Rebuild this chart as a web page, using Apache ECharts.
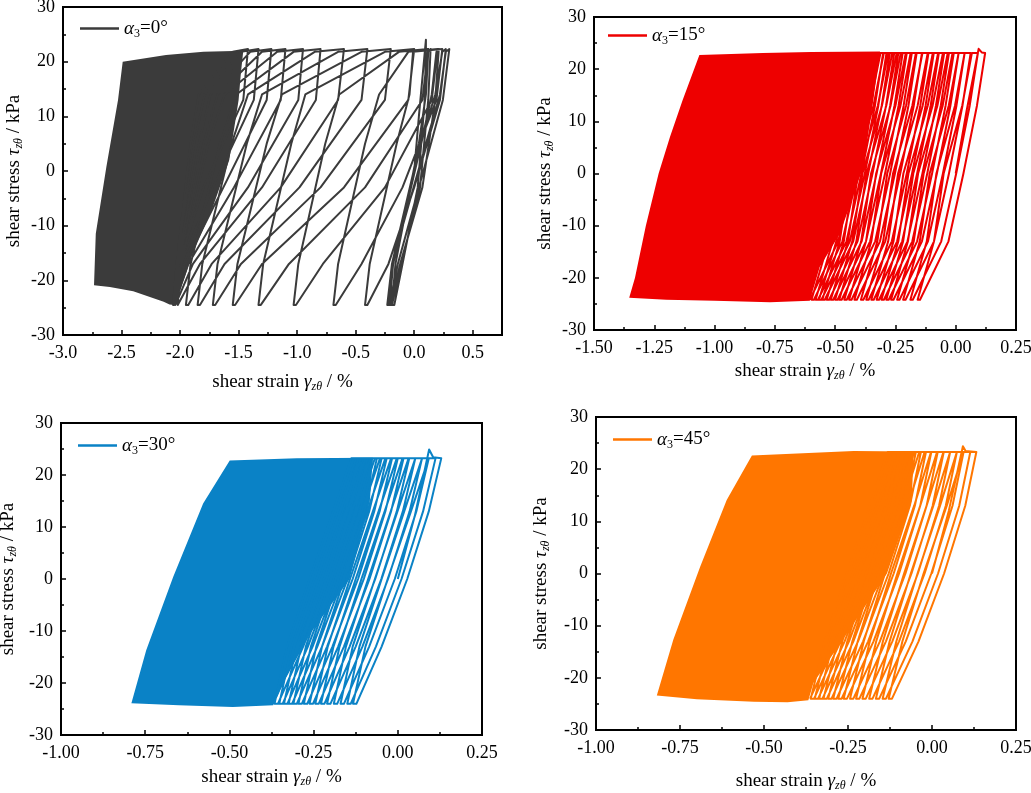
<!DOCTYPE html>
<html lang="en">
<head>
<meta charset="UTF-8">
<title>shear stress - shear strain loops</title>
<script src="https://cdn.jsdelivr.net/npm/echarts@6.0.0/dist/echarts.min.js"></script>
<style>
    * { margin: 0; padding: 0; }
    html, body { width: 1031px; height: 793px; background: #fff; overflow: hidden; }
    #chart { width: 1031px; height: 793px; }
</style>
</head>
<body>
<div id="chart"></div>
<script type="text/javascript">
    var FONT = 'Liberation Serif';

    // ---------- alpha3 = 0 deg ----------
    var p1InitX = [0, 0.04, 0.10];
    var p1InitY = [0, 10, 24];
    var p1TopY = 22.3;
    var p1UpY = [-24.5, -17, 5, 14, 21.8];      // BL, then points on the way up
    var p1DownY = [13, -3, -17, -24.5];         // points on the way down, last = BR
    var p1Top = [0.10, 0.14, 0.21, 0.30, 0.27, 0.24, 0.20, 0.12, 0.0, -0.2, -0.4, -0.6, -0.8, -0.95, -1.1, -1.22, -1.33, -1.42];
    var p1Up = [
        null,
        [-0.19, -0.16, 0.04, 0.10, 0.12],
        [-0.21, -0.18, 0.06, 0.15, 0.19],
        [-0.22, -0.19, 0.10, 0.22, 0.27],
        [-0.23, -0.19, 0.05, 0.18, 0.24],
        [-0.42, -0.38, -0.15, -0.04, -0.01],
        [-0.69, -0.65, -0.42, -0.30, -0.05],
        [-1.03, -0.99, -0.76, -0.64, -0.13],
        [-1.33, -1.29, -1.05, -0.93, -0.25],
        [-1.55, -1.51, -1.26, -1.13, -0.45],
        [-1.72, -1.68, -1.43, -1.30, -0.65],
        [-1.85, -1.81, -1.56, -1.42, -0.85],
        [-1.95, -1.91, -1.66, -1.52, -1.03],
        [-2.03, -1.99, -1.76, -1.62, -1.17],
        [-2.05, -2.01, -1.80, -1.68, -1.30],
        [-2.06, -2.02, -1.84, -1.74, -1.40],
        [-2.07, -2.03, -1.88, -1.79, -1.48],
        [-2.07, -2.03, -1.91, -1.84, -1.55]
    ];
    var p1Down = [
        [0.09, 0.03, -0.10, -0.17],
        [0.12, 0.05, -0.11, -0.19],
        [0.18, 0.07, -0.12, -0.20],
        [0.245, 0.04, -0.14, -0.21],
        [0.22, 0.00, -0.22, -0.40],
        [0.19, -0.10, -0.45, -0.67],
        [0.15, -0.25, -0.78, -1.01],
        [0.07, -0.42, -1.07, -1.31],
        [-0.05, -0.60, -1.30, -1.53],
        [-0.25, -0.80, -1.48, -1.70],
        [-0.45, -0.98, -1.62, -1.83],
        [-0.65, -1.14, -1.73, -1.93],
        [-0.84, -1.30, -1.83, -2.02],
        [-0.99, -1.42, -1.89, -2.04],
        [-1.14, -1.54, -1.93, -2.05],
        [-1.26, -1.63, -1.96, -2.06],
        [-1.37, -1.72, -1.99, -2.06],
        [-1.46, -1.80, -2.01, -2.06]
    ];
    var p1Dense = [[-2.735, -20.9], [-2.72, -11.5], [-2.63, 0.7], [-2.53, 13], [-2.49, 20.0], [-2.12, 21.2], [-1.80, 21.8],
        [-1.46, 22.0], [-1.48, 18], [-1.50, 13], [-1.58, 2], [-1.72, -6.6], [-1.89, -15], [-2.03, -23.7], [-2.05, -24.5],
        [-2.09, -24.4], [-2.14, -23.9], [-2.40, -22.0], [-2.60, -21.2]];

    // ---------- alpha3 = 15 deg ----------
    var p2InitX = [0, 0.045, 0.095, 0.108];
    var p2InitY = [0, 12, 23.9, 23.2];
    var p2TopY = 23.1;
    var p2UpY = [-24.2, -13, 0, 13, 23.1];
    var p2DownY = [13, 0, -13, -24.2];
    var p2Top = [0.122, 0.092, 0.062, 0.037, 0.012, -0.008, -0.028, -0.048, -0.070, -0.091, -0.113, -0.140,
        -0.162, -0.182, -0.203, -0.220, -0.238, -0.255, -0.273, -0.287, -0.301, -0.318, -0.335];
    var p2Up = [
        null,
        [-0.158, -0.090, -0.050, 0.027, 0.067],
        [-0.188, -0.120, -0.080, -0.003, 0.037],
        [-0.218, -0.149, -0.108, -0.029, 0.012],
        [-0.243, -0.174, -0.133, -0.054, -0.013],
        [-0.268, -0.198, -0.156, -0.076, -0.033],
        [-0.288, -0.218, -0.176, -0.096, -0.053],
        [-0.308, -0.238, -0.196, -0.116, -0.073],
        [-0.328, -0.258, -0.217, -0.137, -0.095],
        [-0.350, -0.280, -0.239, -0.158, -0.116],
        [-0.371, -0.301, -0.260, -0.180, -0.138],
        [-0.393, -0.325, -0.284, -0.206, -0.165],
        [-0.420, -0.350, -0.309, -0.229, -0.187],
        [-0.442, -0.372, -0.330, -0.250, -0.207],
        [-0.462, -0.392, -0.351, -0.270, -0.228],
        [-0.483, -0.412, -0.370, -0.288, -0.245],
        [-0.500, -0.429, -0.387, -0.306, -0.263],
        [-0.518, -0.447, -0.405, -0.323, -0.280],
        [-0.535, -0.464, -0.422, -0.341, -0.298],
        [-0.553, -0.481, -0.439, -0.356, -0.312],
        [-0.567, -0.495, -0.453, -0.370, -0.326],
        [-0.581, -0.510, -0.468, -0.386, -0.343],
        [-0.598, -0.527, -0.485, -0.403, -0.360]
    ];
    var p2Down = [
        [0.088, 0.032, -0.030, -0.148],
        [0.058, 0.002, -0.060, -0.178],
        [0.028, -0.028, -0.090, -0.208],
        [0.003, -0.053, -0.115, -0.233],
        [-0.022, -0.078, -0.140, -0.258],
        [-0.042, -0.098, -0.160, -0.278],
        [-0.062, -0.118, -0.180, -0.298],
        [-0.082, -0.138, -0.200, -0.318],
        [-0.104, -0.160, -0.222, -0.340],
        [-0.125, -0.181, -0.243, -0.361],
        [-0.147, -0.203, -0.265, -0.383],
        [-0.174, -0.230, -0.292, -0.410],
        [-0.196, -0.252, -0.314, -0.432],
        [-0.216, -0.272, -0.334, -0.452],
        [-0.237, -0.293, -0.355, -0.473],
        [-0.254, -0.310, -0.372, -0.490],
        [-0.272, -0.328, -0.390, -0.508],
        [-0.289, -0.345, -0.407, -0.525],
        [-0.307, -0.363, -0.425, -0.543],
        [-0.321, -0.377, -0.439, -0.557],
        [-0.335, -0.391, -0.453, -0.571],
        [-0.352, -0.408, -0.470, -0.588],
        [-0.369, -0.425, -0.487, -0.605]
    ];
    var p2Dense = [[-1.354, -23.8], [-1.33, -20], [-1.285, -10], [-1.232, 0], [-1.185, 7], [-1.133, 14], [-1.063, 22.7],
        [-0.8, 23.1], [-0.6, 23.3], [-0.314, 23.4], [-0.342, 14], [-0.383, 1.3], [-0.48, -11.5], [-0.564, -17.9],
        [-0.605, -24.4], [-0.77, -24.7], [-1.0, -24.4], [-1.2, -24.2]];

    // ---------- alpha3 = 30 deg ----------
    var p3InitX = [0, 0.05, 0.093, 0.105];
    var p3InitY = [0, 12, 24.9, 23.4];
    var p3TopY = 23.2;
    var p3UpY = [-24.0, -13, 0, 13, 23.2];
    var p3DownY = [13, 0, -13, -24.0];
    var p3Top = [0.129, 0.112, 0.092, 0.072, 0.052, 0.034, 0.017, 0.000, -0.017, -0.033, -0.048, -0.062,
        -0.076, -0.090, -0.104, -0.118];
    var p3Up = [
        null,
        [-0.133, -0.096, -0.030, 0.039, 0.092],
        [-0.150, -0.114, -0.048, 0.019, 0.072],
        [-0.170, -0.134, -0.068, -0.001, 0.052],
        [-0.190, -0.154, -0.088, -0.021, 0.032],
        [-0.210, -0.173, -0.108, -0.039, 0.014],
        [-0.228, -0.191, -0.125, -0.057, -0.003],
        [-0.245, -0.208, -0.142, -0.074, -0.020],
        [-0.262, -0.225, -0.159, -0.091, -0.037],
        [-0.279, -0.242, -0.176, -0.107, -0.053],
        [-0.295, -0.258, -0.191, -0.122, -0.068],
        [-0.310, -0.273, -0.206, -0.136, -0.082],
        [-0.324, -0.287, -0.220, -0.150, -0.096],
        [-0.338, -0.301, -0.234, -0.164, -0.110],
        [-0.352, -0.315, -0.248, -0.178, -0.124],
        [-0.366, -0.329, -0.262, -0.192, -0.138]
    ];
    var p3Down = [
        [0.092, 0.028, -0.048, -0.123],
        [0.075, 0.011, -0.065, -0.140],
        [0.055, -0.009, -0.085, -0.160],
        [0.035, -0.029, -0.105, -0.180],
        [0.015, -0.049, -0.125, -0.200],
        [-0.003, -0.067, -0.143, -0.218],
        [-0.020, -0.084, -0.160, -0.235],
        [-0.037, -0.101, -0.177, -0.252],
        [-0.054, -0.118, -0.194, -0.269],
        [-0.070, -0.134, -0.210, -0.285],
        [-0.085, -0.149, -0.225, -0.300],
        [-0.099, -0.163, -0.239, -0.314],
        [-0.113, -0.177, -0.253, -0.328],
        [-0.127, -0.191, -0.267, -0.342],
        [-0.141, -0.205, -0.281, -0.356],
        [-0.155, -0.219, -0.295, -0.370]
    ];
    var p3Dense = [[-0.791, -23.9], [-0.747, -13.7], [-0.667, 0.4], [-0.578, 14.5], [-0.499, 22.8], [-0.3, 23.2],
        [-0.074, 23.3], [-0.083, 15], [-0.143, 0], [-0.26, -10.5], [-0.34, -20], [-0.37, -24.3], [-0.49, -24.6],
        [-0.65, -24.3]];

    // ---------- alpha3 = 45 deg ----------
    var p4InitX = [0, 0.05, 0.092, 0.10];
    var p4InitY = [0, 12, 24.4, 23.5];
    var p4TopY = 23.3;
    var p4UpY = [-24.0, -13, 0, 13, 23.3];
    var p4DownY = [13, 0, -13, -24.0];
    var p4Top = [0.132, 0.114, 0.094, 0.074, 0.054, 0.035, 0.017, -0.002, -0.018, -0.033, -0.048, -0.062,
        -0.075, -0.088, -0.100, -0.112];
    var p4Up = [
        null,
        [-0.129, -0.088, -0.025, 0.044, 0.094],
        [-0.147, -0.106, -0.043, 0.024, 0.074],
        [-0.167, -0.126, -0.063, 0.004, 0.054],
        [-0.187, -0.146, -0.083, -0.016, 0.034],
        [-0.207, -0.166, -0.103, -0.035, 0.015],
        [-0.226, -0.185, -0.122, -0.053, -0.003],
        [-0.244, -0.203, -0.140, -0.072, -0.022],
        [-0.263, -0.221, -0.158, -0.089, -0.038],
        [-0.279, -0.237, -0.173, -0.104, -0.053],
        [-0.294, -0.252, -0.188, -0.119, -0.068],
        [-0.309, -0.267, -0.203, -0.134, -0.082],
        [-0.323, -0.281, -0.216, -0.147, -0.095],
        [-0.336, -0.294, -0.229, -0.160, -0.108],
        [-0.349, -0.307, -0.242, -0.172, -0.120],
        [-0.361, -0.319, -0.254, -0.185, -0.132]
    ];
    var p4Down = [
        [0.099, 0.036, -0.040, -0.119],
        [0.081, 0.018, -0.058, -0.137],
        [0.061, -0.002, -0.078, -0.157],
        [0.041, -0.022, -0.098, -0.177],
        [0.021, -0.042, -0.118, -0.197],
        [0.002, -0.061, -0.137, -0.216],
        [-0.016, -0.079, -0.155, -0.234],
        [-0.035, -0.098, -0.174, -0.253],
        [-0.051, -0.114, -0.190, -0.269],
        [-0.066, -0.129, -0.205, -0.284],
        [-0.081, -0.144, -0.220, -0.299],
        [-0.095, -0.158, -0.234, -0.313],
        [-0.108, -0.171, -0.247, -0.326],
        [-0.121, -0.184, -0.260, -0.339],
        [-0.133, -0.196, -0.272, -0.351],
        [-0.145, -0.208, -0.284, -0.363]
    ];
    var p4Dense = [[-0.819, -23.4], [-0.770, -12.7], [-0.690, 1.3], [-0.611, 14.1], [-0.536, 22.6], [-0.233, 23.5],
        [-0.055, 23.4], [-0.06, 14], [-0.134, 0], [-0.253, -11.5], [-0.353, -21], [-0.368, -24.3], [-0.43, -24.7],
        [-0.53, -24.6], [-0.7, -24.1]];

    var angles = ['0', '15', '30', '45'];

    // strain path: first loading, then for every cycle up branch -> peak -> down branch
    function loopPath(initX, initY, tops, topY, ups, upY, downs, downY) {
        var pts = [];
        for (var i = 0; i < initX.length; i++) pts.push([initX[i], initY[i]]);
        for (var k = 0; k < tops.length; k++) {
            if (ups[k]) {
                for (var j = 0; j < ups[k].length; j++) pts.push([ups[k][j], upY[j]]);
            }
            pts.push([tops[k], topY]);
            for (var m = 0; m < downs[k].length; m++) pts.push([downs[k][m], downY[m]]);
        }
        return pts;
    }

    var panels = [
        { color: '#3b3b3b', grid: { left: 63, top: 7, width: 439, height: 328 },
          xMin: -3, xMax: 0.75, xStep: 0.5, digits: 1, xGap: 36, yGap: 38, legend: { left: 80, top: 19 },
          path: loopPath(p1InitX, p1InitY, p1Top, p1TopY, p1Up, p1UpY, p1Down, p1DownY), dense: p1Dense },
        { color: '#ee0000', grid: { left: 594, top: 17, width: 422, height: 313 },
          xMin: -1.5, xMax: 0.25, xStep: 0.25, digits: 2, xGap: 30, yGap: 38, legend: { left: 608, top: 26 },
          path: loopPath(p2InitX, p2InitY, p2Top, p2TopY, p2Up, p2UpY, p2Down, p2DownY), dense: p2Dense },
        { color: '#0a82c6', grid: { left: 61, top: 423, width: 421, height: 312 },
          xMin: -1, xMax: 0.25, xStep: 0.25, digits: 2, xGap: 31, yGap: 42, legend: { left: 78, top: 436 },
          path: loopPath(p3InitX, p3InitY, p3Top, p3TopY, p3Up, p3UpY, p3Down, p3DownY), dense: p3Dense },
        { color: '#ff7600', grid: { left: 596, top: 417, width: 420, height: 313 },
          xMin: -1, xMax: 0.25, xStep: 0.25, digits: 2, xGap: 40, yGap: 44, legend: { left: 613, top: 430 },
          path: loopPath(p4InitX, p4InitY, p4Top, p4TopY, p4Up, p4UpY, p4Down, p4DownY), dense: p4Dense }
    ];

    var nameRich = {
        n: { fontFamily: FONT, fontSize: 19, color: '#000', lineHeight: 22 },
        g: { fontFamily: FONT, fontSize: 19, color: '#000', fontStyle: 'italic', lineHeight: 22 },
        s: { fontFamily: FONT, fontSize: 12, color: '#000', fontStyle: 'italic', verticalAlign: 'bottom' }
    };
    var legendRich = {
        a: { fontFamily: FONT, fontSize: 19, color: '#000', fontStyle: 'italic', lineHeight: 22 },
        s: { fontFamily: FONT, fontSize: 12, color: '#000', verticalAlign: 'bottom' },
        n: { fontFamily: FONT, fontSize: 19, color: '#000', lineHeight: 22 }
    };

    var grids = [], xAxes = [], yAxes = [], series = [], legends = [];
    panels.forEach(function (p, i) {
        grids.push({ left: p.grid.left, top: p.grid.top, width: p.grid.width, height: p.grid.height,
            show: true, borderColor: '#000', borderWidth: 2, outerBoundsMode: 'none', containLabel: false });
        xAxes.push({
            type: 'value', gridIndex: i, min: p.xMin, max: p.xMax, interval: p.xStep,
            name: '{n|shear strain }{g|γ}{s|zθ}{n| / %}', nameLocation: 'middle', nameGap: p.xGap,
            nameMoveOverlap: false, nameTextStyle: { rich: nameRich },
            axisLine: { show: true, onZero: false, lineStyle: { color: '#000', width: 2 } },
            axisTick: { show: true, inside: true, length: 5, lineStyle: { color: '#000', width: 1.5 } },
            minorTick: { show: true, splitNumber: 2, length: 3, lineStyle: { color: '#000', width: 1.5 } },
            splitLine: { show: false },
            axisLabel: { fontFamily: FONT, fontSize: 18, color: '#000', margin: 9, showMaxLabel: i !== 0,
                formatter: function (v) { return v.toFixed(p.digits); } }
        });
        yAxes.push({
            type: 'value', gridIndex: i, min: -30, max: 30, interval: 10,
            name: '{n|shear stress }{g|τ}{s|zθ}{n| / kPa}', nameLocation: 'middle', nameGap: p.yGap, nameRotate: 90,
            nameMoveOverlap: false, nameTextStyle: { rich: nameRich },
            axisLine: { show: true, onZero: false, lineStyle: { color: '#000', width: 2 } },
            axisTick: { show: true, inside: true, length: 5, lineStyle: { color: '#000', width: 1.5 } },
            minorTick: { show: true, splitNumber: 2, length: 3, lineStyle: { color: '#000', width: 1.5 } },
            splitLine: { show: false },
            axisLabel: { fontFamily: FONT, fontSize: 18, color: '#000', margin: 8 }
        });
        series.push({
            type: 'custom', xAxisIndex: i, yAxisIndex: i, silent: true, clip: true, z: 1,
            data: [p.dense[0]],
            renderItem: function (params, api) {
                var pts = p.dense.map(function (d) { return api.coord(d); });
                return { type: 'polygon', shape: { points: pts }, style: { fill: p.color } };
            }
        });
        series.push({
            type: 'line', name: 'a' + angles[i], xAxisIndex: i, yAxisIndex: i, z: 2,
            data: p.path, symbol: 'none', showSymbol: false, silent: true, clip: true,
            lineStyle: { color: p.color, width: 2, join: 'round' }, itemStyle: { color: p.color }
        });
        legends.push({
            data: ['a' + angles[i]], left: p.legend.left, top: p.legend.top, selectedMode: false,
            icon: 'rect', itemWidth: 39, itemHeight: 2.5, itemGap: 4, padding: 0,
            textStyle: { rich: legendRich },
            formatter: function () { return '{a|α}{s|3}{n|=' + angles[i] + '°}'; }
        });
    });

    var myChart = echarts.init(document.getElementById('chart'));
    myChart.setOption({
        animation: false,
        backgroundColor: '#fff',
        grid: grids,
        xAxis: xAxes,
        yAxis: yAxes,
        legend: legends,
        series: series
    });
</script>
</body>
</html>
